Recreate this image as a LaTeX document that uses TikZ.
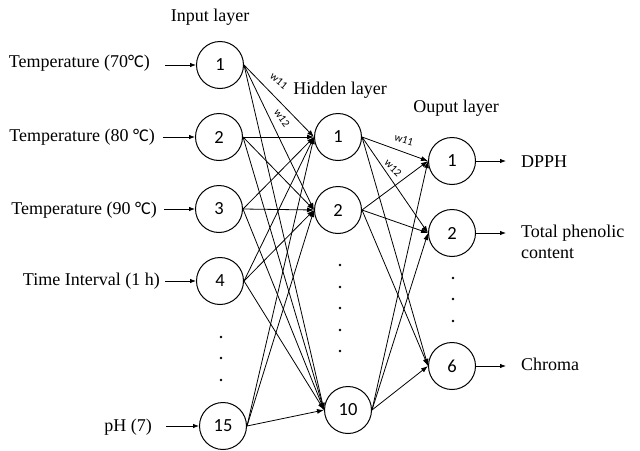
\documentclass[tikz,border=0pt]{standalone}
\usepackage{fontspec}
\setmainfont{Liberation Serif}
\newfontfamily\numfont{Carlito}
\usetikzlibrary{arrows.meta}
\begin{document}
\begin{tikzpicture}[x=1pt,y=-1pt,
  neuron/.style={circle,draw,line width=1pt,minimum size=47pt,inner sep=0pt,font=\numfont\fontsize{18.5}{22}\selectfont},
  lbl/.style={inner sep=0pt,font=\fontsize{18}{21}\selectfont},
  ttl/.style={inner sep=0pt,font=\fontsize{18}{21}\selectfont},
  wlbl/.style={inner sep=0pt,font=\numfont\fontsize{11}{13}\selectfont},
  conn/.style={line width=0.8pt,-{Latex[length=7pt,width=5pt]}},
  io/.style={line width=0.8pt,-{Latex[length=6pt,width=4.5pt]}},
  dotm/.style={circle,fill,inner sep=0pt,minimum size=2.6pt}]
\useasboundingbox (0,0) rectangle (640,450);
% titles
\node[ttl] (tin) at (210,17) {Input layer};
\node[ttl] (thid) at (340,90) {Hidden layer};
\node[ttl] (tout) at (456,108) {Ouput layer};
% input neurons
\node[neuron] (i1) at (220,65) {1};
\node[neuron] (i2) at (219,137) {2};
\node[neuron] (i3) at (219,209) {3};
\node[neuron] (i4) at (220,281) {4};
\node[neuron] (i15) at (223,426) {15};
% hidden neurons
\node[neuron] (h1) at (338,137) {1};
\node[neuron] (h2) at (338,210) {2};
\node[neuron] (h10) at (348,410) {10};
% output neurons
\node[neuron] (o1) at (452,161) {1};
\node[neuron] (o2) at (452,233) {2};
\node[neuron] (o6) at (452,366) {6};
% input labels
\node[lbl,anchor=east] (l1) at (150,63) {Temperature (70{\numfont °C})};
\node[lbl,anchor=east] (l2) at (155,137) {Temperature (80 {\numfont °C})};
\node[lbl,anchor=east] (l3) at (157,210) {Temperature (90 {\numfont °C})};
\node[lbl,anchor=east] (l4) at (160,281) {Time Interval (1 h)};
\node[lbl,anchor=east] (l5) at (152,427) {pH (7)};
\coordinate (s1) at (165,65);
\coordinate (s2) at (163,137);
\coordinate (s3) at (164,209);
\coordinate (s4) at (165,281);
\coordinate (s5) at (166,426);
\draw[io] (s1) -- (i1);
\draw[io] (s2) -- (i2);
\draw[io] (s3) -- (i3);
\draw[io] (s4) -- (i4);
\draw[io] (s5) -- (i15);
% output labels
\coordinate (e1) at (506,161);
\coordinate (e2) at (506,233);
\coordinate (e6) at (506,366);
\draw[io] (o1) -- (e1);
\draw[io] (o2) -- (e2);
\draw[io] (o6) -- (e6);
\node[lbl,anchor=west] (r1) at (521,162) {DPPH};
\node[lbl,anchor=west,align=left] (r2) at (521,242) {Total phenolic\\content};
\node[lbl,anchor=west] (r6) at (521,364) {Chroma};
% input -> hidden
\foreach \a in {i1,i2,i3,i4,i15}{
  \foreach \b in {h1,h2,h10}{
    \draw[conn] (\a.east) -- (\b.west);
  }
}
% hidden -> output
\foreach \a in {h1,h2,h10}{
  \foreach \b in {o1,o2,o6}{
    \draw[conn] (\a.east) -- (\b.west);
  }
}
% weights
\node[wlbl,rotate=-40] (wa) at (279,81) {w11};
\node[wlbl,rotate=-55] (wb) at (282,118) {w12};
\node[wlbl,rotate=-17] (wc) at (404,140) {w11};
\node[wlbl,rotate=-45] (wd) at (393,168) {w12};
% dots
\node[dotm] (d1) at (221,337) {};
\node[dotm] (d2) at (221,358) {};
\node[dotm] (d3) at (221,380) {};
\node[dotm] (hd1) at (340,265) {};
\node[dotm] (hd2) at (340,287) {};
\node[dotm] (hd3) at (340,308) {};
\node[dotm] (hd4) at (340,330) {};
\node[dotm] (hd5) at (340,351) {};
\node[dotm] (od1) at (453,278) {};
\node[dotm] (od2) at (453,299) {};
\node[dotm] (od3) at (453,321) {};
\end{tikzpicture}
\end{document}
